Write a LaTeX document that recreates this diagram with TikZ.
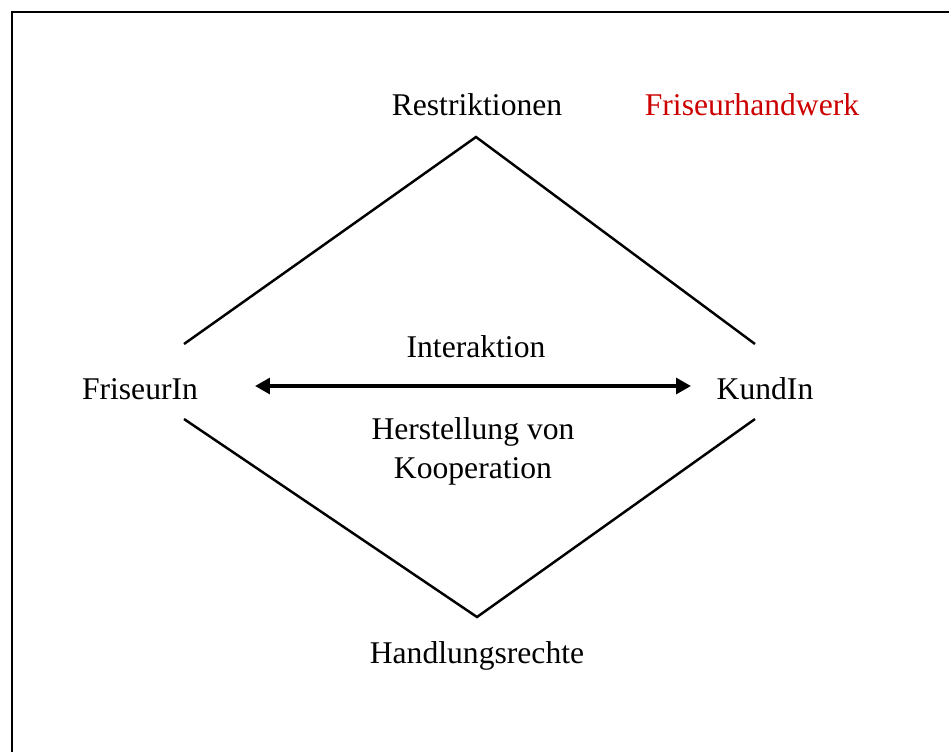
\documentclass[tikz,border=0pt]{standalone}
\usepackage{xcolor}
\definecolor{handwerk}{rgb}{.8,0,0}
\usepackage{fontspec}
\setmainfont{Liberation Serif}
\usetikzlibrary{arrows.meta}
\tikzset{
    font={\fontsize{18pt}{22}\selectfont},
    label/.style={anchor=base, inner sep=0pt},
    side/.style={line width=1.4pt},
    pfeil/.style={line width=2pt, {Triangle[length=8.5pt,width=9pt]}-{Triangle[length=8.5pt,width=9pt]}},
    }
\begin{document}
\begin{tikzpicture}
    [x=0.02cm, y=-0.02cm]
    \useasboundingbox (0,0) rectangle (949,751);
    \clip (0,0) rectangle (949,751);
    \draw[line width=1.3pt] (12,12) rectangle (980,780);
    % text
    \node[label] (restr) at (477,115) {Restriktionen};
    \node[label, text=handwerk] (handwerk) at (752,115) {Friseurhandwerk};
    \node[label] (friseur) at (140,399) {FriseurIn};
    \node[label] (kunde) at (765,399) {KundIn};
    \node[label] (interaktion) at (476,357) {Interaktion};
    \node[label, align=center] (koop) at (473,478)
        {Herstellung von\\ Kooperation};
    \node[label] (rechte) at (477,663) {Handlungsrechte};
    % diamond
    \coordinate (top) at (476,137);
    \coordinate (bottom) at (477,617);
    \coordinate (fo) at (184,344);
    \coordinate (fu) at (184,419);
    \coordinate (ko) at (755,344);
    \coordinate (ku) at (755,419);
    \draw[side] (fo)--(top)--(ko);
    \draw[side] (fu)--(bottom)--(ku);
    \coordinate (al) at (255,386);
    \coordinate (ar) at (691,386);
    \draw[pfeil] (al)--(ar);
\end{tikzpicture}
\end{document}
